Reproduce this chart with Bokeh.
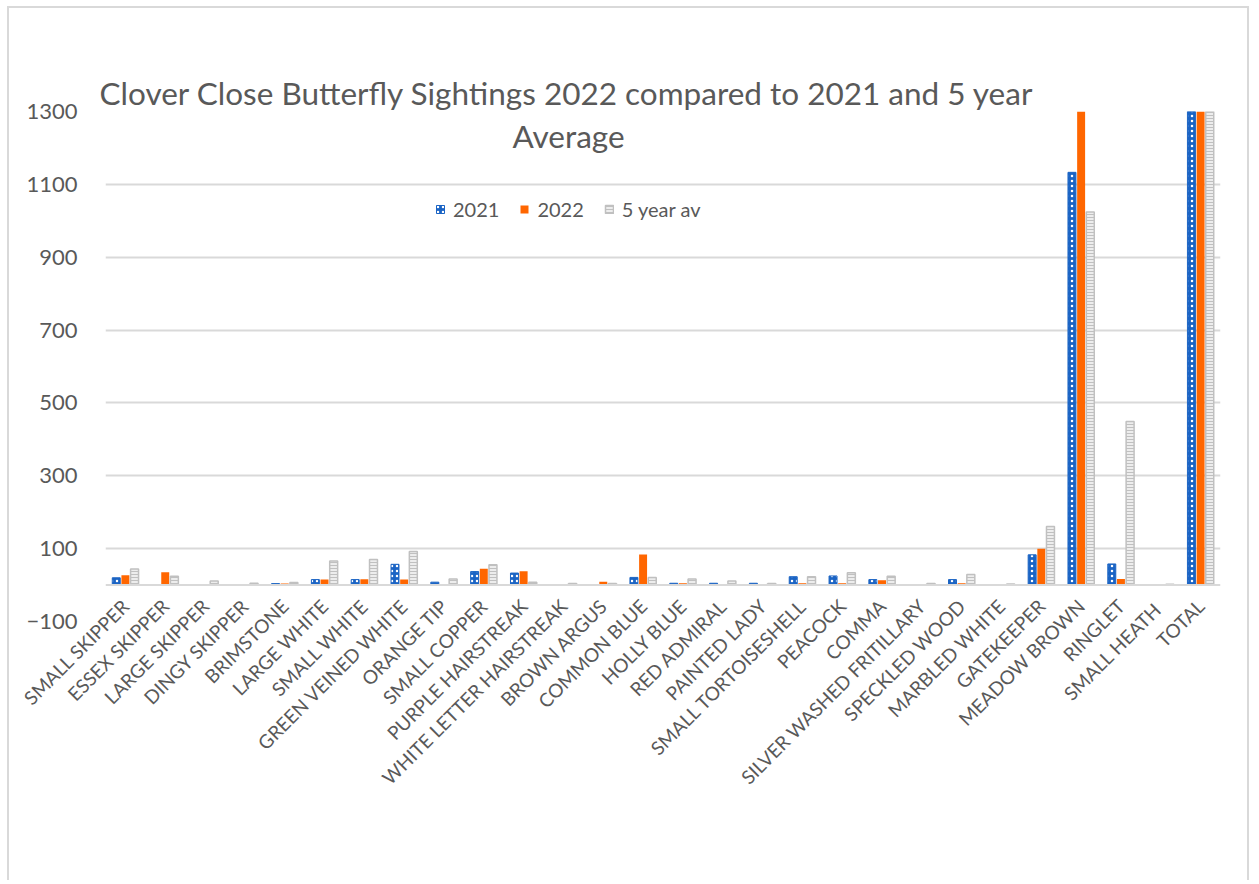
from math import pi

from bokeh.embed import file_html
from bokeh.models import (ColumnDataSource, FactorRange, FixedTicker, Label, Legend, LegendItem,
                          Range1d, Span, Title)
from bokeh.plotting import figure
from bokeh.resources import INLINE
from bokeh.transform import dodge

# Butterfly species counted, plus the overall total
species = [
    "SMALL SKIPPER", "ESSEX SKIPPER", "LARGE SKIPPER", "DINGY SKIPPER", "BRIMSTONE",
    "LARGE WHITE", "SMALL WHITE", "GREEN VEINED WHITE", "ORANGE TIP", "SMALL COPPER",
    "PURPLE HAIRSTREAK", "WHITE LETTER HAIRSTREAK", "BROWN ARGUS", "COMMON BLUE",
    "HOLLY BLUE", "RED ADMIRAL", "PAINTED LADY", "SMALL TORTOISESHELL", "PEACOCK",
    "COMMA", "SILVER WASHED FRITILLARY", "SPECKLED WOOD", "MARBLED WHITE",
    "GATEKEEPER", "MEADOW BROWN", "RINGLET", "SMALL  HEATH", "TOTAL",
]

sightings_2021 = [20, 0, 0, 0, 4, 15, 15, 57, 8, 37, 33, 0, 0, 21, 5, 5, 5, 23, 25, 15,
                  0, 15, 0, 83, 1133, 58, 0, 1577]
sightings_2022 = [27, 35, 0, 0, 4, 15, 16, 15, 0, 45, 38, 0, 9, 84, 5, 0, 0, 5, 5, 13,
                  0, 5, 0, 100, 1450, 17, 0, 1888]
five_year_avg = [44, 24, 11, 5, 7, 66, 70, 92, 17, 56, 8, 4, 4, 21, 17, 11, 4, 23, 34, 24,
                 4, 29, 3, 161, 1024, 449, 2, 2214]

y_ticks = [-100, 100, 300, 500, 700, 900, 1100, 1300]

title_line1 = "Clover Close Butterfly Sightings 2022 compared to 2021 and 5 year"
title_line2 = "Average"

source = ColumnDataSource(dict(
    species=species, y2021=sightings_2021, y2022=sightings_2022, yavg=five_year_avg,
))

FONT = "Lato"
TEXT_GREY = "#595959"
GRID_GREY = "#d9d9d9"

p = figure(
    x_range=FactorRange(*species, range_padding=0),
    y_range=Range1d(-100, 1300),
    width=1242, height=874,
    output_backend="svg", toolbar_location=None, title=None,
    min_border_left=96, min_border_right=31, min_border_top=103, min_border_bottom=261,
)
p.styles = {
    "margin-left": "7px", "margin-top": "6px",
    "border-left": f"2px solid {GRID_GREY}", "border-top": f"2px solid {GRID_GREY}",
    "border-right": f"2px solid {GRID_GREY}",
}
p.outline_line_color = None
p.background_fill_color = "white"
p.border_fill_color = "white"

# Zero line of the value axis
p.add_layout(Span(location=0, dimension="width", line_color=GRID_GREY, line_width=2))

bar_w = 0.2
r21 = p.vbar(x=dodge("species", -0.23, range=p.x_range), top="y2021", width=bar_w, source=source,
             fill_color="#1b64c4", line_color="#1b64c4", line_width=1,
             hatch_pattern="dot", hatch_color="white", hatch_scale=5, hatch_weight=1)
r22 = p.vbar(x=dodge("species", 0.0, range=p.x_range), top="y2022", width=bar_w, source=source,
             fill_color="#ff6600", line_color=None)
ravg = p.vbar(x=dodge("species", 0.23, range=p.x_range), top="yavg", width=bar_w, source=source,
              fill_color="#ededed", line_color="#c0c0c0", line_width=1.5,
              hatch_pattern="horizontal_line", hatch_color="#c0c0c0", hatch_scale=3, hatch_weight=1)

# Category axis: labels hang diagonally just under the zero line
p.xaxis.axis_line_color = None
p.xaxis.major_tick_line_color = None
p.xaxis.minor_tick_line_color = None
p.xaxis.major_label_orientation = pi / 4
p.xaxis.major_label_standoff = -25
p.xaxis.major_label_text_font = FONT
p.xaxis.major_label_text_font_size = "19px"
p.xaxis.major_label_text_color = TEXT_GREY
p.xgrid.grid_line_color = None

p.yaxis.ticker = FixedTicker(ticks=y_ticks)
p.yaxis.axis_line_color = None
p.yaxis.major_tick_line_color = None
p.yaxis.minor_tick_line_color = None
p.yaxis.major_label_standoff = 22
p.yaxis.major_label_text_font = FONT
p.yaxis.major_label_text_font_size = "22px"
p.yaxis.major_label_text_color = TEXT_GREY
p.ygrid.grid_line_color = GRID_GREY
p.ygrid.grid_line_width = 2

# Heading: first line above the frame, second line inside it
p.add_layout(Title(text=title_line1, align="left", offset=-6, standoff=0,
                   vertical_align="bottom", text_font=FONT, text_font_size="31.5px",
                   text_font_style="normal", text_color=TEXT_GREY), "above")
p.add_layout(Label(x=463, y=486, x_units="screen", y_units="screen", text=title_line2,
                   text_align="center", text_baseline="middle",
                   text_font=FONT, text_font_size="31.5px", text_color=TEXT_GREY))

legend = Legend(
    items=[LegendItem(label="2021", renderers=[r21]),
           LegendItem(label="2022", renderers=[r22]),
           LegendItem(label="5 year av", renderers=[ravg])],
    orientation="horizontal", location=(330, 400),
    glyph_width=10, glyph_height=10, label_standoff=8, spacing=20,
    padding=0, margin=0, border_line_color=None, background_fill_alpha=0,
    label_text_font=FONT, label_text_font_size="20px", label_text_color=TEXT_GREY,
)
p.add_layout(legend, "center")

open("out.html", "w").write(file_html(p, INLINE))
